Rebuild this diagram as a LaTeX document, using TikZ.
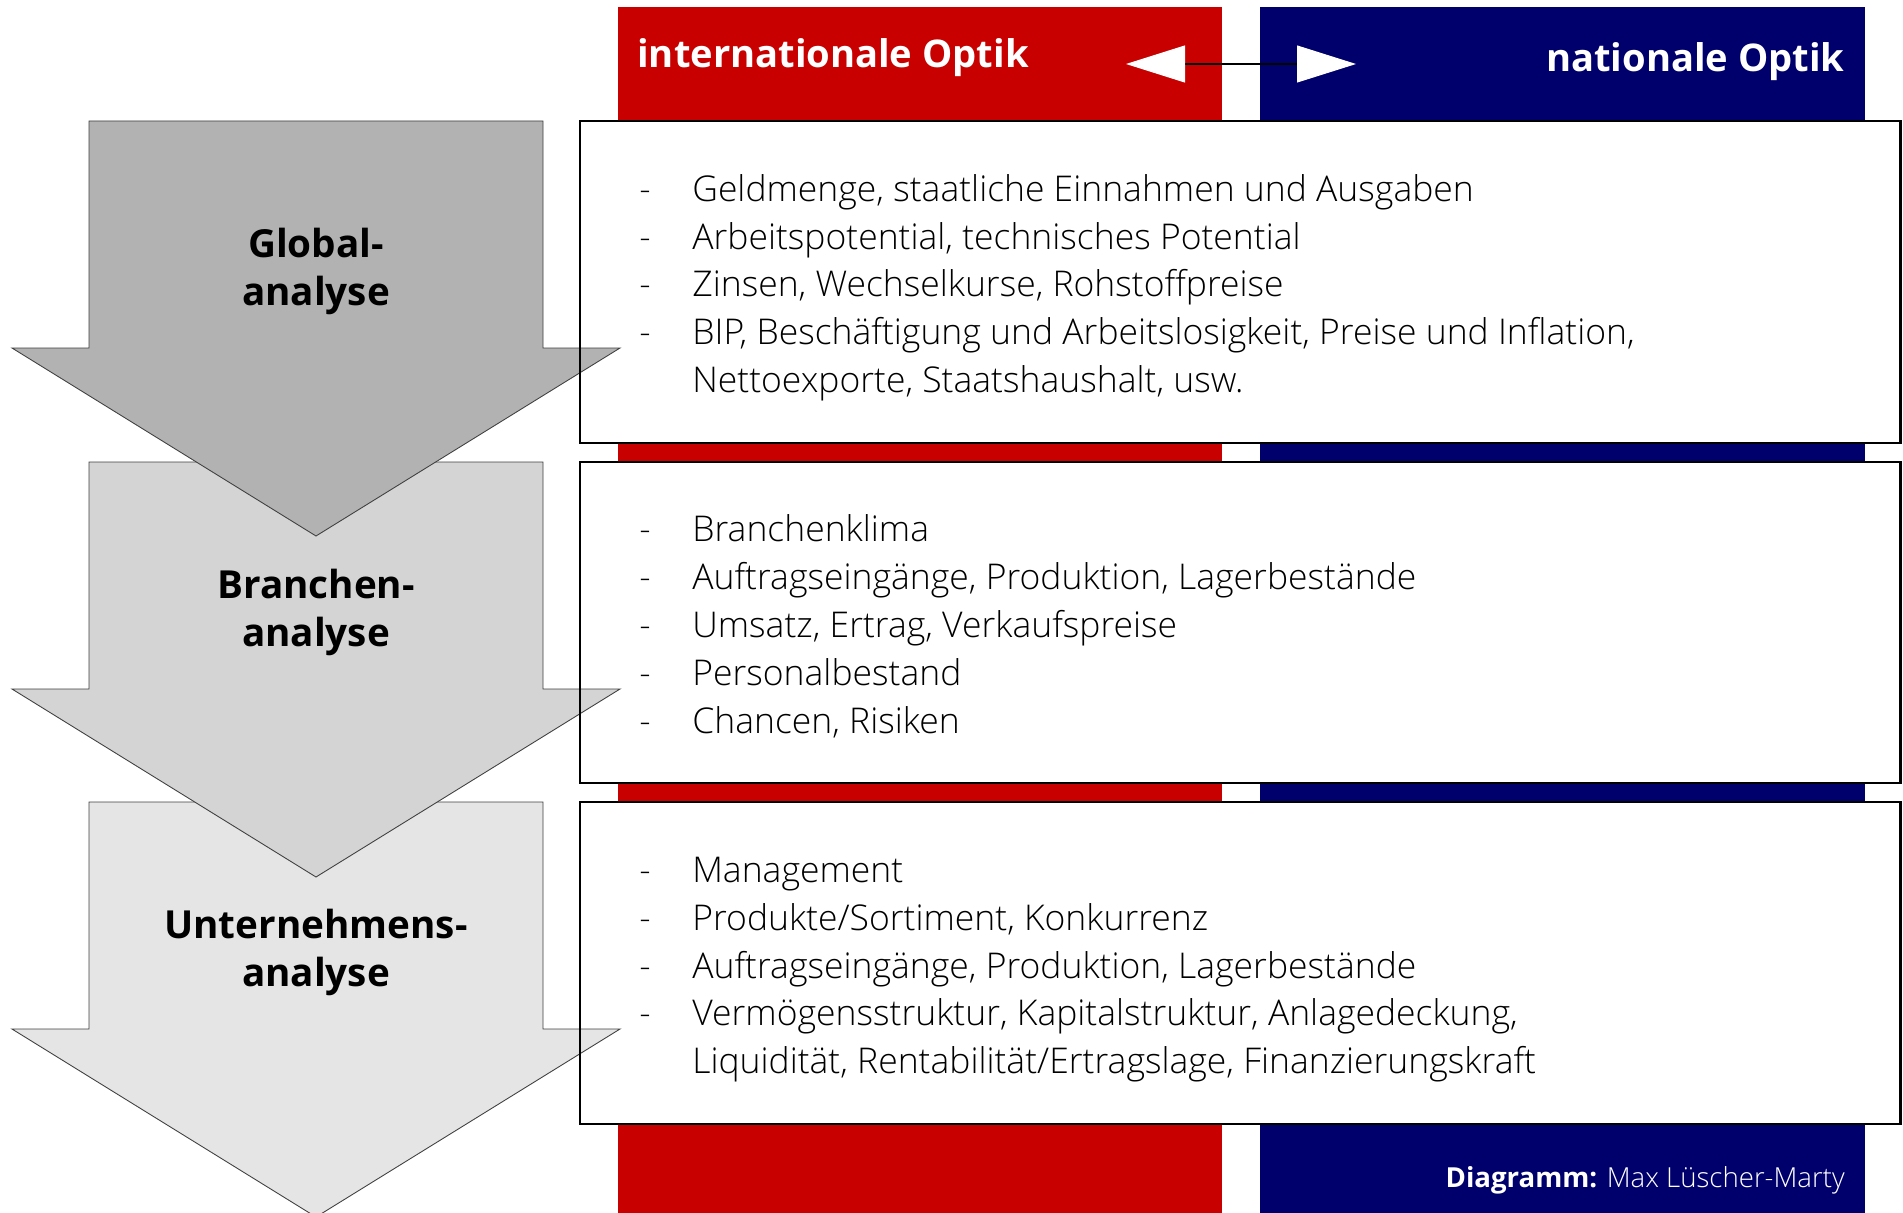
\documentclass[tikz,border=0pt]{standalone}
\usepackage{fontspec}
\IfFontExistsTF{Open Sans Light}
  {\setmainfont{Open Sans}[UprightFont={* Light}, BoldFont={* Bold}]}
  {\setmainfont{Open Sans}}
\usepackage{xcolor}
\usetikzlibrary{arrows.meta,positioning,calc}

\definecolor{optikred}{RGB}{200,0,0}
\definecolor{optikblue}{RGB}{0,0,108}
\newcommand{\itm}[1]{\strut\makebox[1.06cm][l]{-}#1}
\newcommand{\cont}[1]{\strut\hspace*{1.06cm}#1}

\begin{document}
\begin{tikzpicture}[x=0.02cm, y=-0.02cm,
    infobox/.style={fill=white, inner sep=0pt, minimum width=26.4cm, minimum height=6.42cm, anchor=north west},
    boxline/.style={draw=black, line width=1.2pt},
    headtext/.style={text=white, inner sep=0pt, font=\bfseries\fontsize{21.7}{26}\selectfont},
    stage/.style={draw=black!75, line width=0.5pt},
    stagetext/.style={align=center, inner sep=0pt, font=\bfseries\fontsize{22}{27}\selectfont},
    itemlist/.style={align=left, anchor=north west, inner sep=0pt, font=\fontsize{20.2}{27.2}\selectfont}
  ]
    \useasboundingbox (0,0) rectangle (1903,1213);
    \clip (0,0) rectangle (1903,1213);

    % the two columns
    \fill[optikred] (618,7) rectangle (1222,1213);
    \fill[optikblue] (1260,7) rectangle (1865,1213);
    \node[headtext, anchor=west] (intl) at (637,58) {internationale Optik};
    \node[headtext, anchor=east] (natl) at (1845,62) {nationale Optik};
    \coordinate (lefttip) at (1126,64);
    \coordinate (righttip) at (1356,64);
    \draw[black, line width=0.6pt, {Triangle[length=1.18cm, width=0.74cm, white]}-{Triangle[length=1.18cm, width=0.74cm, white]}] (lefttip) -- (righttip);

    % white boxes
    \node[infobox] (b1) at (580,121) {};
    \node[infobox, below=0.38cm of b1] (b2) {};
    \node[infobox, below=0.38cm of b2] (b3) {};

    % down arrows, lowest first
    \foreach \top/\shade/\lbl [count=\i] in {802/black!10/Unternehmens-\\analyse, 462/black!17/Branchen-\\analyse, 121/black!30/Global-\\analyse}{
      \filldraw[stage, fill=\shade] (89,\top) -- (543,\top) -- (543,\top+227) -- (620,\top+227)
        -- (316,\top+415) -- (12,\top+227) -- (89,\top+227) -- cycle;
      \node[stagetext] (stage\i) at (316,\top+150.5) {\lbl};
    }

    \foreach \b in {b1,b2,b3}
      \draw[boxline] (\b.north west) rectangle (\b.south east);

    \node[itemlist] (list1) at ($(b1.north west)+(59,46.5)$) {%
      \itm{Geldmenge, staatliche Einnahmen und Ausgaben}\\
      \itm{Arbeitspotential, technisches Potential}\\
      \itm{Zinsen, Wechselkurse, Rohstoffpreise}\\
      \itm{BIP, Besch\"aftigung und Arbeitslosigkeit, Preise und Inflation,}\\
      \cont{Nettoexporte, Staatshaushalt, usw.}};
    \node[itemlist] (list2) at ($(b2.north west)+(59,46.5)$) {%
      \itm{Branchenklima}\\
      \itm{Auftragseing\"ange, Produktion, Lagerbest\"ande}\\
      \itm{Umsatz, Ertrag, Verkaufspreise}\\
      \itm{Personalbestand}\\
      \itm{Chancen, Risiken}};
    \node[itemlist] (list3) at ($(b3.north west)+(59,46.5)$) {%
      \itm{Management}\\
      \itm{Produkte/Sortiment, Konkurrenz}\\
      \itm{Auftragseing\"ange, Produktion, Lagerbest\"ande}\\
      \itm{Verm\"ogensstruktur, Kapitalstruktur, Anlagedeckung,}\\
      \cont{Liquidit\"at, Rentabilit\"at/Ertragslage, Finanzierungskraft}};

    \node[anchor=east, text=white, inner sep=0pt, font=\fontsize{15.7}{19}\selectfont] (credit) at (1845,1180) {\textbf{Diagramm:} Max L\"uscher-Marty};
  \end{tikzpicture}
\end{document}
